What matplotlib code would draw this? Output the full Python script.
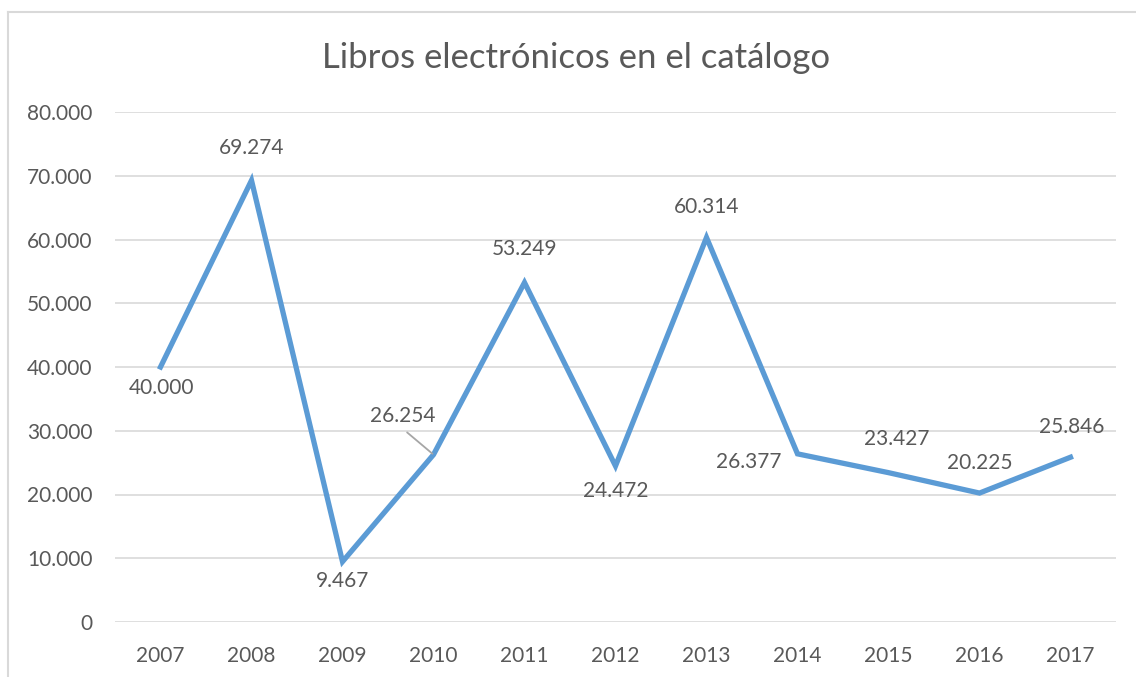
import matplotlib.pyplot as plt
from matplotlib.ticker import FuncFormatter

# Data
years = ["2007", "2008", "2009", "2010", "2011", "2012", "2013", "2014", "2015", "2016", "2017"]
libros = [40000, 69274, 9467, 26254, 53249, 24472, 60314, 26377, 23427, 20225, 25846]
labels = ["40.000", "69.274", "9.467", "26.254", "53.249", "24.472", "60.314",
          "26.377", "23.427", "20.225", "25.846"]

# label offsets (points) per data point, Excel-style placement
offsets = [(1, -15), (0, 23), (0, -14), (-22, 28), (0, 24), (0, -18), (0, 22),
           (-35, -6), (6, 24), (0, 22), (1, 22)]

plt.rcParams['font.family'] = ['Lato', 'DejaVu Sans']
gray = "#595959"

fig = plt.figure(figsize=(11.36, 6.77), dpi=100)
ax = fig.add_axes([115 / 1136, 1 - 622 / 677, 1001 / 1136, 510 / 677])

x = list(range(len(years)))
ax.plot(x, libros, color="#5B9BD5", linewidth=3.8, solid_joinstyle="miter", zorder=3)

for i, (v, lab) in enumerate(zip(libros, labels)):
    dx, dy = offsets[i]
    ax.annotate(lab, (i, v), xytext=(dx, dy), textcoords="offset points",
                ha="center", va="center", fontsize=15, color=gray)

# leader line for 2010 label
ax.annotate("", (3, libros[3]), xytext=(-19, 16), textcoords="offset points",
            arrowprops=dict(arrowstyle="-", color="#A6A6A6", lw=1.3,
                            shrinkA=0, shrinkB=1))

ax.set_xlim(-0.5, len(years) - 0.5)
ax.set_ylim(0, 80000)
ax.set_yticks(range(0, 80001, 10000))
ax.yaxis.set_major_formatter(FuncFormatter(lambda v, p: "0" if v == 0 else f"{int(v):,}".replace(",", ".")))
ax.set_xticks(x)
ax.set_xticklabels(years)
ax.grid(axis="y", color="#D9D9D9", linewidth=1.2)
ax.set_axisbelow(True)
for s in ax.spines.values():
    s.set_visible(False)
ax.tick_params(length=0, labelsize=15, colors=gray)
ax.tick_params(axis="y", pad=16)
ax.tick_params(axis="x", pad=17)

fig.text(576 / 1136, 1 - 58 / 677, "Libros electrónicos en el catálogo",
         ha="center", va="center", fontsize=25, color=gray)

# chart border (left and top visible)
fig.add_artist(plt.Line2D([8 / 1136, 8 / 1136], [0, 1 - 12 / 677], color="#D9D9D9", lw=1.5))
fig.add_artist(plt.Line2D([8 / 1136, 1], [1 - 12 / 677, 1 - 12 / 677], color="#D9D9D9", lw=1.5))

fig.savefig("out.png", dpi=100)
